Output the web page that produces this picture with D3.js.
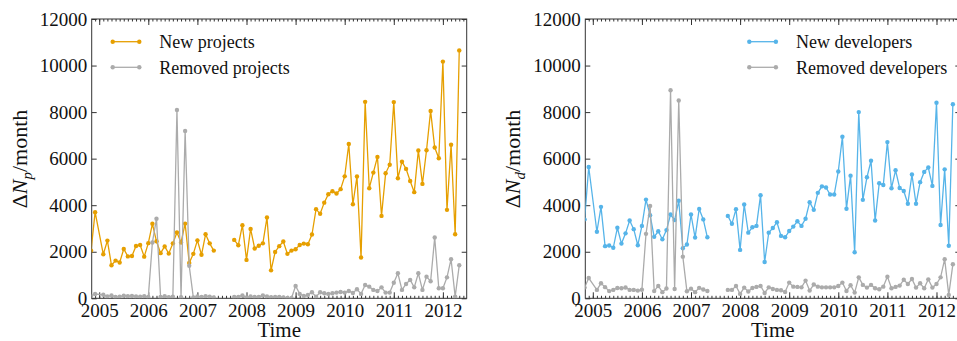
<!DOCTYPE html>
<html>
<head>
<meta charset="utf-8">
<script src="https://cdn.jsdelivr.net/npm/d3@7"></script>
<style>
  body { margin: 0; background: #fff; }
  svg { display: block; font-family: "Liberation Serif", "DejaVu Serif", serif; }
</style>
</head>
<body>
<div id="chart"></div>
<script>
const WIDTH = 957;
const HEIGHT = 341;

const ORANGE = '#e69f00';
const BLUE   = '#56b4e9';
const GRAY   = '#ababab';

// Each series comes in two runs with a gap (Jun-Sep 2007) between them.
// Run A starts Nov 2004, run B starts Oct 2007. null = month missing.
const START_A = [2004, 10];
const START_B = [2007, 9];

const newProjectsA = [2050, 3700, null, 1890, 2480, 1420, 1620, 1540, 2120, 1800, 1820, 2250, 2290, 1790,
  2370, 3200, 2450, 1940, 2230, 1920, 2360, 2830, 2400, 3210, 1520, 1910,
  2490, 1870, 2750, 2360, 2050];
const newProjectsB = [2510, 2280, 3140,
  1650, 2980, 2140, 2260, 2360, 3470, 1200, 1990, 2240, 2440, 1910, 2050,
  2110, 2290, 2350, 2320, 2740, 3830, 3630, 4110, 4470, 4600, 4500, 4690,
  5240, 6630, 4040, 5230, 1750, 8440, 4730, 5400, 6075, 3540, 5370, 5740,
  8430, 5160, 5870, 5560, 5040, 4560, 6350, 4915, 6360, 8050, 6480, 6020,
  10170, 3800, 6600, 2750, 10650];

const removedProjectsA = [100, 185, null, 150, 80, 120, 60, 70, 110, 90, 100, 80, 70, 90,
  60, 2400, 3420, 60, 90, 50, 70, 8090, 50, 7190, 1400, 40,
  80, 60, 90, 70, 40];
const removedProjectsB = [60, 60, 120,
  40, 80, 60, 60, 120, 80, 50, 60, 60, 40, 20, 10,
  530, 190, 100, 140, 260, 70, 260, 215, 190, 215, 245, 270,
  245, 315, 230, 390, 190, 570, 500, 360, 315, 470, 245, 245,
  670, 1075, 360, 615, 790, 470, 1075, 360, 930, 730, 2610, 430,
  430, 900, 1680, 70, 1420];

const newDevelopersA = [3390, 5640, null, 2860, 3930, 2240, 2270, 2170, 3030, 2350, 2790, 3340, 2970, 2280,
  3110, 4240, 3570, 2640, 2880, 2540, 2930, 3600, 3360, 4190, 2150, 2310,
  3600, 2610, 3840, 3390, 2620];
const newDevelopersB = [3540, 3200, 3830,
  2080, 4030, 2820, 3050, 3110, 4430, 1560, 2820, 3020, 3270, 2680, 2620,
  2890, 3080, 3310, 3110, 3420, 4130, 3800, 4530, 4810, 4760, 4460, 4460,
  5450, 6940, 3850, 5270, 1980, 8000, 4230, 5200, 5910, 3340, 4940, 4870,
  6710, 4730, 5500, 4740, 4610, 4060, 5320, 4060, 4990, 5430, 5620, 4830,
  8400, 3150, 5540, 2260, 8340];

const removedDevelopersA = [460, 870, null, 360, 645, 480, 310, 360, 445, 430, 465, 360, 360, 330,
  365, 2770, 3970, 310, 530, 265, 420, 8940, 400, 8500, 1790, 300,
  415, 265, 450, 375, 315];
const removedDevelopersB = [360, 360, 530,
  190, 460, 290, 445, 490, 530, 230, 470, 400, 360, 345, 270,
  675, 500, 490, 470, 760, 330, 590, 500, 470, 470, 470, 470,
  530, 675, 315, 560, 245, 900, 575, 460, 575, 430, 390, 500,
  930, 430, 490, 545, 800, 615, 830, 460, 645, 430, 815, 460,
  615, 900, 1680, 145, 1460];

const yTicks = [0, 2000, 4000, 6000, 8000, 10000, 12000];
const yearTicks = [2005, 2006, 2007, 2008, 2009, 2010, 2011, 2012];

const X_DOMAIN = [2004.847, 2012.485];
const PLOT_TOP = 19;
const PLOT_BOTTOM = 298.3;
const PLOT_WIDTH = 375;

const panels = [
  {
    left: 91.7, sub: 'p', legendX: 112.7,
    series: [
      { name: 'New projects', color: ORANGE, runs: [[START_A, newProjectsA], [START_B, newProjectsB]] },
      { name: 'Removed projects', color: GRAY, runs: [[START_A, removedProjectsA], [START_B, removedProjectsB]] }
    ]
  },
  {
    left: 585.3, sub: 'd', legendX: 749.3,
    series: [
      { name: 'New developers', color: BLUE, runs: [[START_A, newDevelopersA], [START_B, newDevelopersB]] },
      { name: 'Removed developers', color: GRAY, runs: [[START_A, removedDevelopersA], [START_B, removedDevelopersB]] }
    ]
  }
];

function toPoints(start, values) {
  return values
    .map((v, i) => ({ t: start[0] + (start[1] + i) / 12, value: v }))
    .filter(d => d.value != null);
}

const svg = d3.select('#chart')
  .append('svg')
  .attr('width', WIDTH)
  .attr('height', HEIGHT);

svg.append('rect').attr('width', WIDTH).attr('height', HEIGHT).attr('fill', '#fff');

const y = d3.scaleLinear().domain([0, 12000]).range([PLOT_BOTTOM, PLOT_TOP]);

// monthly minor ticks along the time axis
const monthTicks = d3.range(2004 * 12 + 11, 2012 * 12 + 6).map(m => m / 12);

panels.forEach((panel, pi) => {
  const right = panel.left + PLOT_WIDTH;
  const x = d3.scaleLinear().domain(X_DOMAIN).range([panel.left, right]);
  const g = svg.append('g');

  const clipId = `clip-${pi}`;
  g.append('clipPath').attr('id', clipId)
    .append('rect')
    .attr('x', panel.left).attr('y', PLOT_TOP)
    .attr('width', PLOT_WIDTH).attr('height', PLOT_BOTTOM - PLOT_TOP);

  // Bottom axis (years, inward ticks)
  g.append('g')
    .attr('transform', `translate(0,${PLOT_BOTTOM})`)
    .call(d3.axisBottom(x).tickValues(yearTicks).tickFormat(d3.format('d')).tickSize(-6).tickPadding(5));

  g.append('g')
    .attr('transform', `translate(0,${PLOT_BOTTOM})`)
    .call(d3.axisBottom(x).tickValues(monthTicks).tickFormat('').tickSize(-2.5));

  // Top axis
  g.append('g')
    .attr('transform', `translate(0,${PLOT_TOP})`)
    .call(d3.axisTop(x).tickValues(yearTicks).tickFormat('').tickSize(-6));
  g.append('g')
    .attr('transform', `translate(0,${PLOT_TOP})`)
    .call(d3.axisTop(x).tickValues(monthTicks).tickFormat('').tickSize(-2.5));

  // Left axis
  g.append('g')
    .attr('transform', `translate(${panel.left},0)`)
    .call(d3.axisLeft(y).tickValues(yTicks).tickFormat(d3.format('d')).tickSize(-5).tickPadding(4.5));

  // Right axis
  g.append('g')
    .attr('transform', `translate(${right},0)`)
    .call(d3.axisRight(y).tickValues(yTicks).tickFormat('').tickSize(-5));

  // d3 axes default to a 10px sans-serif; use the page serif instead
  g.selectAll('g').attr('font-family', null).attr('font-size', null);
  g.selectAll('.tick text').attr('font-size', '19px').attr('fill', '#111');
  g.selectAll('.domain').remove();
  g.selectAll('.tick line').attr('stroke', '#333');

  // Frame
  g.append('rect')
    .attr('x', panel.left).attr('y', PLOT_TOP)
    .attr('width', PLOT_WIDTH).attr('height', PLOT_BOTTOM - PLOT_TOP)
    .attr('fill', 'none').attr('stroke', '#333').attr('stroke-width', 1);

  // Data
  const line = d3.line().x(d => x(d.t)).y(d => y(d.value));
  const data = g.append('g').attr('clip-path', `url(#${clipId})`);

  panel.series.forEach(s => {
    s.runs.forEach(([start, values]) => {
      const pts = toPoints(start, values);
      data.append('path')
        .datum(pts)
        .attr('fill', 'none')
        .attr('stroke', s.color)
        .attr('stroke-width', 1.3)
        .attr('d', line);
      data.selectAll(null)
        .data(pts)
        .enter().append('circle')
        .attr('cx', d => x(d.t))
        .attr('cy', d => y(d.value))
        .attr('r', 2.2)
        .attr('fill', s.color);
    });
  });

  // Legend
  panel.series.forEach((s, i) => {
    const ly = 41.7 + i * 25.6;
    const lg = g.append('g');
    lg.append('line')
      .attr('x1', panel.legendX).attr('x2', panel.legendX + 26.6)
      .attr('y1', ly).attr('y2', ly)
      .attr('stroke', s.color).attr('stroke-width', 1.3);
    [panel.legendX, panel.legendX + 26.6].forEach(cx => {
      lg.append('circle').attr('cx', cx).attr('cy', ly).attr('r', 2.2).attr('fill', s.color);
    });
    lg.append('text')
      .attr('x', panel.legendX + 46.6)
      .attr('y', ly + 6.5)
      .attr('font-size', '18px')
      .attr('fill', '#111')
      .text(s.name);
  });

  // X label
  g.append('text')
    .attr('x', panel.left + PLOT_WIDTH / 2)
    .attr('y', 336.5)
    .attr('text-anchor', 'middle')
    .attr('font-size', '21px')
    .attr('fill', '#111')
    .text('Time');

  // Y label
  const yl = g.append('text')
    .attr('transform', `translate(${panel.left - 65},159) rotate(-90)`)
    .attr('text-anchor', 'middle')
    .attr('font-size', '22px')
    .attr('fill', '#111');
  yl.append('tspan').text('Δ');
  yl.append('tspan').attr('font-style', 'italic').text('N');
  yl.append('tspan').attr('font-style', 'italic').attr('font-size', '15px').attr('dy', 5).text(panel.sub);
  yl.append('tspan').attr('dy', -5).text('/month');
});
</script>
</body>
</html>
